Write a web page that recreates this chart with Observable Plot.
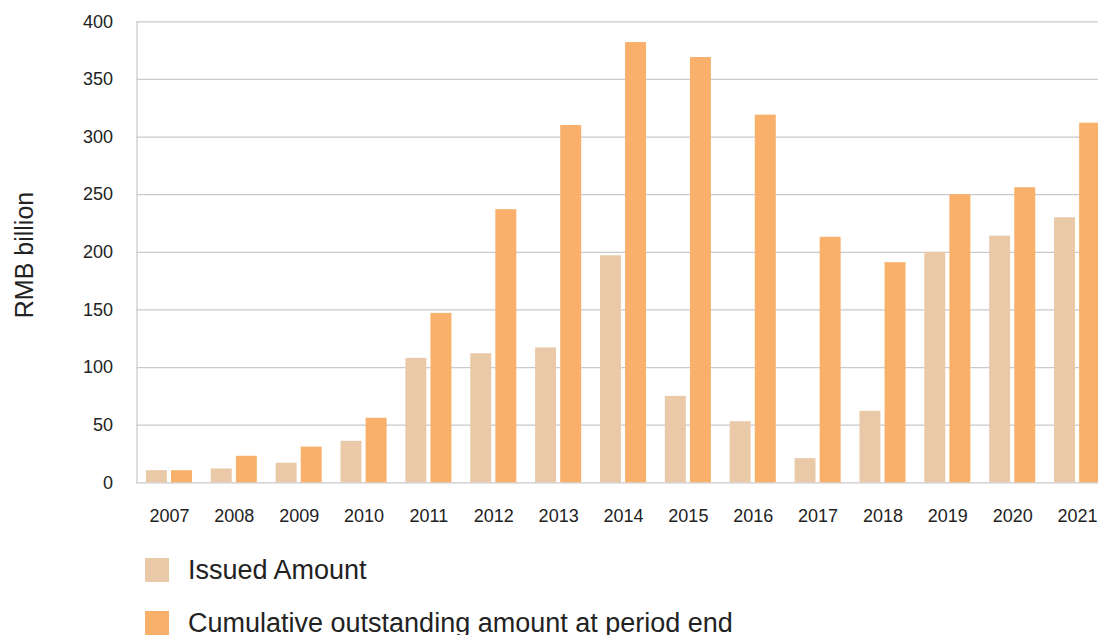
<!DOCTYPE html>
<html>
<head>
<meta charset="utf-8">
<script src="https://cdn.jsdelivr.net/npm/d3@7"></script>
<script src="https://cdn.jsdelivr.net/npm/@observablehq/plot@0.6"></script>
<style>
  html, body { margin: 0; padding: 0; background: #fff; overflow: hidden; width: 1098px; height: 635px; }
  body { position: relative; font-family: "Liberation Sans", Arial, Helvetica, sans-serif; color: #222; }
  #chart { position: absolute; left: 0; top: 0; width: 1110px; }
  #chart svg { max-width: none !important; }
  #ylabel { position: absolute; left: 24px; top: 255px; transform: translate(-50%, -50%) rotate(-90deg); font-size: 25px; white-space: nowrap; color: #222; }
  #legend { position: absolute; left: 145px; top: 558px; }
  .row { display: flex; align-items: center; height: 24px; margin-bottom: 29px; }
  .sw { width: 24px; height: 24px; margin-right: 19px; flex: none; }
  .lab { font-size: 27px; white-space: nowrap; line-height: 24px; }
</style>
</head>
<body>
<div id="chart"></div>
<div id="ylabel">RMB billion</div>
<div id="legend"></div>
<script>
const years = ["2007","2008","2009","2010","2011","2012","2013","2014","2015","2016","2017","2018","2019","2020","2021"];
const issued = [10.5, 12, 17, 36, 108, 112, 117, 197, 75, 53, 21, 62, 200, 214, 230];
const cumulative = [10.5, 23, 31, 56, 147, 237, 310, 382, 369, 319, 213, 191, 250, 256, 312];
const seriesNames = ["Issued Amount", "Cumulative outstanding amount at period end"];
const seriesColors = ["#EAC9A9", "#F9B06A"];

const data = years.map((y, i) => ({year: y, issued: issued[i], cumulative: cumulative[i]}));

const chart = Plot.plot({
  width: 1110,
  height: 530,
  marginLeft: 136.5,
  marginRight: 0.5,
  marginTop: 21.3,
  marginBottom: 47.7,
  style: {fontFamily: "'Liberation Sans', Arial, Helvetica, sans-serif", fontSize: "18px", color: "#222", background: "transparent", maxWidth: "none"},
  x: {type: "band", domain: years, padding: 0, round: false, label: null, tickSize: 0, tickPadding: 26},
  y: {domain: [0, 400], ticks: 8, label: null, tickSize: 0, tickPadding: 24},
  marks: [
    Plot.gridY({ticks: 8, stroke: "#c9c9ce", strokeOpacity: 1, strokeWidth: 1.2}),
    Plot.frame({anchor: "left", stroke: "#c9c9ce", strokeWidth: 1.2}),
    Plot.barY(data, {x: "year", y: "issued", fill: seriesColors[0], insetLeft: 9.4, insetRight: 34.5}),
    Plot.barY(data, {x: "year", y: "cumulative", fill: seriesColors[1], insetLeft: 34.5, insetRight: 9.4}),
    Plot.axisY({ticks: 8, tickSize: 0, tickPadding: 24, label: null}),
    Plot.axisX({tickSize: 0, tickPadding: 26, label: null})
  ]
});
chart.style.maxWidth = "none";
document.getElementById("chart").appendChild(chart);

const legend = document.getElementById("legend");
seriesNames.forEach((name, i) => {
  const row = document.createElement("div");
  row.className = "row";
  const sw = document.createElement("div");
  sw.className = "sw";
  sw.style.background = seriesColors[i];
  const lab = document.createElement("div");
  lab.className = "lab";
  lab.textContent = name;
  row.appendChild(sw);
  row.appendChild(lab);
  legend.appendChild(row);
});
</script>
</body>
</html>
